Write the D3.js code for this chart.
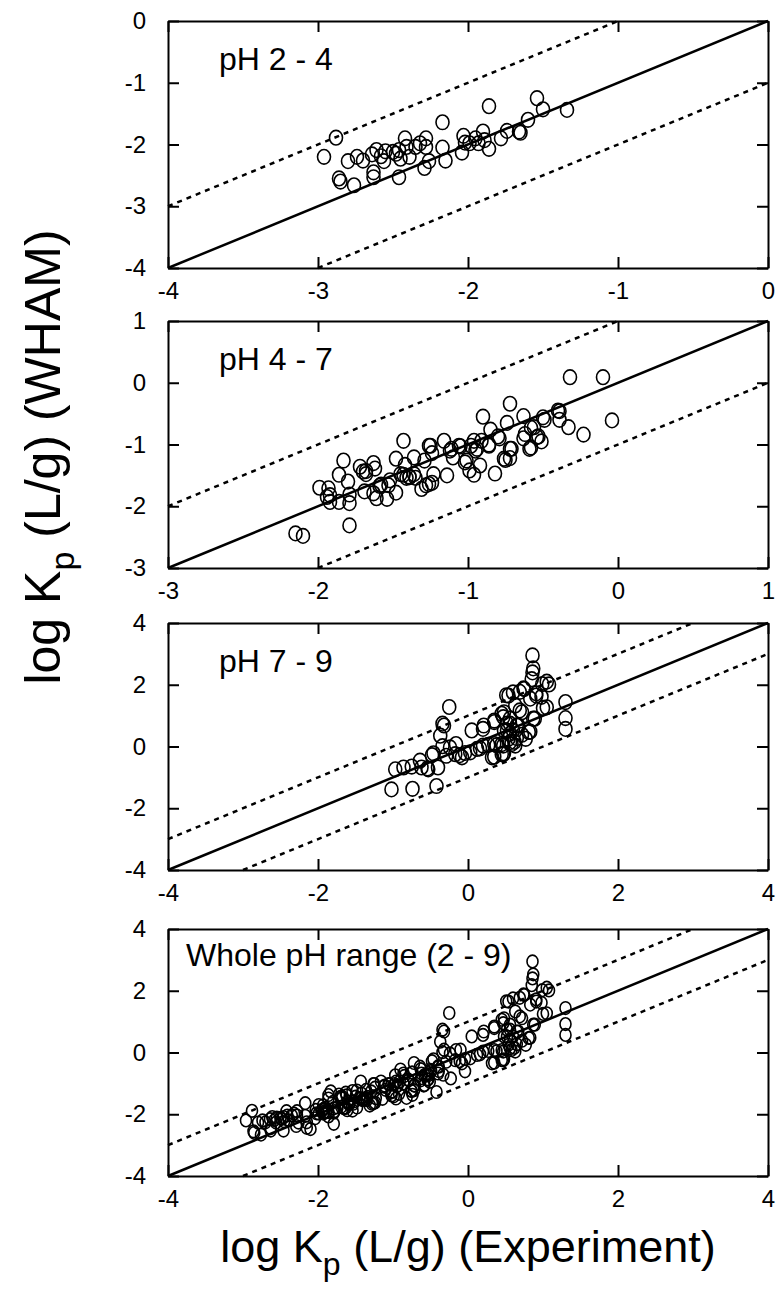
<!DOCTYPE html>
<html>
<head>
<meta charset="utf-8">
<script src="https://cdn.jsdelivr.net/npm/d3@7"></script>
<style>
  body { margin: 0; background: #fff; }
  svg { display: block; font-family: Arial, 'Liberation Sans', sans-serif; }
</style>
</head>
<body>
<svg id="chart"></svg>
<script>
// log Kp (experiment, WHAM) pairs
const phLow = [
  [-2.96,-2.20],[-2.88,-1.89],[-2.86,-2.55],[-2.85,-2.60],[-2.80,-2.27],[-2.76,-2.66],[-2.74,-2.20],
  [-2.70,-2.26],[-2.64,-2.16],[-2.63,-2.45],[-2.63,-2.53],[-2.61,-2.09],[-2.58,-2.19],[-2.56,-2.27],
  [-2.55,-2.11],[-2.50,-2.12],[-2.48,-2.15],[-2.46,-2.09],[-2.46,-2.53],[-2.45,-2.23],[-2.42,-1.90],
  [-2.41,-2.04],[-2.39,-2.20],[-2.35,-2.04],[-2.32,-1.98],[-2.29,-2.38],[-2.28,-1.90],[-2.28,-2.04],
  [-2.26,-2.27],[-2.17,-1.64],[-2.17,-2.05],[-2.15,-2.26],[-2.04,-2.13],[-2.03,-1.86],[-2.02,-1.97],
  [-1.99,-1.98],[-1.95,-1.90],[-1.93,-1.98],[-1.90,-1.79],[-1.89,-1.93],[-1.86,-2.07],[-1.86,-1.38],
  [-1.78,-1.90],[-1.74,-1.78],[-1.66,-1.79],[-1.65,-1.81],[-1.60,-1.60],[-1.54,-1.25],[-1.50,-1.43],
  [-1.34,-1.44]
]
const phMid = [
  [-2.15,-2.44],[-2.10,-2.48],[-1.99,-1.70],[-1.93,-1.71],[-1.92,-1.82],[-1.92,-1.93],[-1.86,-1.93],
  [-1.86,-1.49],[-1.83,-1.26],[-1.80,-1.60],[-1.79,-1.81],[-1.79,-1.95],[-1.79,-2.31],[-1.72,-1.36],
  [-1.70,-1.44],[-1.68,-1.48],[-1.63,-1.30],[-1.62,-1.39],[-1.69,-1.76],[-1.63,-1.79],[-1.61,-1.87],
  [-1.58,-1.65],[-1.54,-1.88],[-1.53,-1.66],[-1.52,-1.58],[-1.48,-1.23],[-1.48,-1.78],[-1.43,-1.49],
  [-1.42,-1.33],[-1.43,-0.94],[-1.41,-1.54],[-1.39,-1.52],[-1.36,-1.21],[-1.35,-1.54],[-1.31,-1.72],
  [-1.29,-1.26],[-1.28,-1.66],[-1.24,-1.62],[-1.25,-1.02],[-1.24,-1.14],[-1.16,-0.94],[-1.14,-1.50],
  [-1.11,-1.07],[-1.10,-1.21],[-1.05,-1.03],[-1.01,-1.26],[-0.99,-1.42],[-0.98,-1.02],[-0.96,-1.49],
  [-0.94,-1.07],[-0.91,-0.94],[-0.90,-0.55],[-0.86,-1.02],[-0.85,-0.76],[-0.82,-1.47],[-0.80,-0.87],
  [-0.79,-0.90],[-0.75,-1.25],[-0.74,-0.65],[-0.72,-0.34],[-0.72,-1.07],[-0.72,-1.22],[-0.63,-0.54],
  [-0.63,-0.90],[-0.59,-1.07],[-0.58,-0.73],[-0.53,-0.87],[-0.51,-0.95],[-0.49,-0.60],[-0.39,-0.46],
  [-0.39,-0.60],[-0.33,-0.72],[-0.32,0.09],[-0.23,-0.84],[-0.10,0.09],[-0.04,-0.61],
  [-1.94,-1.85],[-1.68,-1.43],[-1.59,-1.67],[-1.45,-1.48],[-1.39,-1.53],[-1.36,-1.48],[-1.26,-1.64],
  [-1.23,-1.48],[-1.26,-1.02],[-1.12,-1.10],[-1.06,-1.02],[-1.02,-1.29],[-0.96,-0.94],[-0.95,-1.10],
  [-0.92,-1.34],[-0.86,-1.00],[-0.76,-1.23],[-0.71,-1.07],[-0.62,-0.83],[-0.58,-1.05],[-0.56,-0.72],
  [-0.54,-0.88],[-0.50,-0.56],[-0.40,-0.45]
]
const phHigh = [
  [-0.97,-0.74],[-0.86,-0.68],[-0.75,-0.65],[-0.64,-0.46],[-0.62,-0.68],[-0.53,-0.74],[-0.48,-0.28],
  [-0.40,-0.68],[-1.02,-1.39],[-0.74,-1.37],[-0.42,-1.28],[-0.25,1.28],[-0.34,0.74],[-0.37,0.35],
  [-0.34,0.01],[-0.24,-0.03],[-0.29,-0.30],[-0.16,0.08],[-0.17,-0.25],[-0.08,-0.35],[-0.04,-0.21],
  [0.03,-0.19],[0.12,-0.08],[0.05,0.52],[0.20,0.57],[0.20,0.03],[0.27,0.05],[0.32,-0.35],[0.35,0.08],
  [0.35,0.84],[0.45,1.06],[0.47,-0.25],[0.45,0.08],[0.51,1.66],[0.52,0.74],[0.58,0.08],[0.56,0.41],
  [0.63,1.33],[0.65,0.68],[0.86,2.95],[0.87,2.53],[0.86,2.40],[0.85,2.18],[1.05,2.10],[1.08,2.01],
  [0.74,1.88],[0.69,1.77],[0.60,1.75],[0.91,1.72],[0.98,1.61],[0.83,1.55],[1.00,1.25],[1.30,1.44],
  [1.30,0.92],[1.30,0.57],[0.69,1.17],[0.87,0.90],[0.47,0.95],[0.56,0.74],[0.52,0.52],[0.60,0.52],
  [0.83,0.48],[0.72,0.38],[0.77,0.25],[0.65,0.27],[0.56,0.14],[0.47,0.03],[0.63,0.03],[0.45,-0.25],
  [0.54,0.25],
  [0.54,1.65],[0.75,1.86],[0.91,1.65],[1.05,1.27],[0.99,2.02],[0.56,0.90],[0.48,1.11],[0.72,1.11],
  [0.67,0.68],[0.81,0.47],[0.89,0.90],[0.48,0.52],[0.62,0.15],[0.38,0.04],[0.48,-0.22],[0.35,-0.33],
  [0.16,-0.06],[0.21,0.68],[0.35,0.79],[-0.11,-0.28],[-0.32,0.68],[-0.46,-0.22],[-0.54,-0.71]
]

const panelLabels = ['pH 2 - 4', 'pH 4 - 7', 'pH 7 - 9', 'Whole pH range (2 - 9)']
const panelDomains = [[-4, 0], [-3, 1], [-4, 4], [-4, 4]]
const panelTicks = [[-4, -3, -2, -1, 0], [-3, -2, -1, 0, 1], [-4, -2, 0, 2, 4], [-4, -2, 0, 2, 4]]
const panelData = [phLow, phMid, phHigh, phLow.concat(phMid, phHigh)]

const fullWidth = 777
const fullHeight = 1292
const left = 168
const width = 600
const height = 247
const panelTops = [21, 321, 623, 929]
const tickLen = 11

const svg = d3.select('#chart')
  .attr('width', fullWidth)
  .attr('height', fullHeight)

panelData.forEach((points, i) => {
  const dom = panelDomains[i]
  const ticks = panelTicks[i]
  const g = svg.append('g').attr('transform', `translate(${left}, ${panelTops[i]})`)

  const x = d3.scaleLinear().domain(dom).range([0, width])
  const y = d3.scaleLinear().domain(dom).range([height, 0])
  const fmt = d => String(d)

  g.append('g')
    .attr('transform', `translate(0, ${height})`)
    .call(d3.axisBottom(x).tickValues(ticks).tickSize(-tickLen).tickSizeOuter(0).tickPadding(14).tickFormat(fmt))
  g.append('g')
    .call(d3.axisLeft(y).tickValues(ticks).tickSize(-tickLen).tickSizeOuter(0).tickPadding(22).tickFormat(fmt))
  g.append('g')
    .call(d3.axisTop(x).tickValues(ticks).tickSize(-tickLen).tickSizeOuter(0).tickFormat(''))
  g.append('g')
    .attr('transform', `translate(${width}, 0)`)
    .call(d3.axisRight(y).tickValues(ticks).tickSize(-tickLen).tickSizeOuter(0).tickFormat(''))

  g.selectAll('.domain, .tick line').attr('stroke', '#000').attr('stroke-width', 2)
  g.selectAll('.tick text').attr('fill', '#000').attr('font-size', 24)
    .attr('font-family', 'Arial, Liberation Sans, sans-serif')

  // 1:1 line and the +/- 1 log unit band
  const line = d3.line().x(d => x(d[0])).y(d => y(d[1]))
  g.append('path')
    .attr('d', line([[dom[0], dom[0]], [dom[1], dom[1]]]))
    .attr('fill', 'none').attr('stroke', '#000').attr('stroke-width', 2.5)
  g.append('path')
    .attr('d', line([[dom[0], dom[0] + 1], [dom[1] - 1, dom[1]]]))
    .attr('fill', 'none').attr('stroke', '#000').attr('stroke-width', 2.5)
    .attr('stroke-dasharray', '5,5')
  g.append('path')
    .attr('d', line([[dom[0] + 1, dom[0]], [dom[1], dom[1] - 1]]))
    .attr('fill', 'none').attr('stroke', '#000').attr('stroke-width', 2.5)
    .attr('stroke-dasharray', '5,5')

  const small = i === 3
  g.append('g')
    .selectAll('ellipse')
      .data(points)
      .enter().append('ellipse')
        .attr('cx', d => x(d[0]))
        .attr('cy', d => y(d[1]))
        .attr('rx', small ? 5.5 : 6.5)
        .attr('ry', small ? 6.3 : 7.3)
        .attr('fill', 'none')
        .attr('stroke', '#000')
        .attr('stroke-width', 1.6)

  g.append('text')
    .attr('x', small ? 18 : 51)
    .attr('y', small ? 37 : 49)
    .attr('font-size', 32)
    .text(panelLabels[i])
})

// axis titles
const xTitle = svg.append('text')
  .attr('x', left + width / 2)
  .attr('y', 1262)
  .attr('text-anchor', 'middle')
  .attr('font-size', 45)
xTitle.append('tspan').text('log K')
xTitle.append('tspan').attr('font-size', 32).attr('dy', 13).text('p')
xTitle.append('tspan').attr('dy', -13).text(' (L/g) (Experiment)')

const yTitle = svg.append('text')
  .attr('transform', 'translate(60, 457) rotate(-90)')
  .attr('text-anchor', 'middle')
  .attr('font-size', 50)
yTitle.append('tspan').text('log K')
yTitle.append('tspan').attr('font-size', 34).attr('dy', 14).text('p')
yTitle.append('tspan').attr('dy', -14).text(' (L/g) (WHAM)')
</script>
</body>
</html>
